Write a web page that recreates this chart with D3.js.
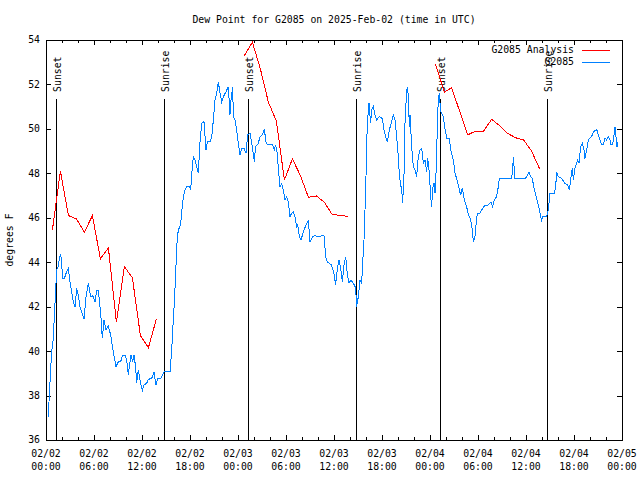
<!DOCTYPE html>
<html><head><meta charset="utf-8">
<script src="https://cdn.jsdelivr.net/npm/d3@7"></script>
<style>
body{margin:0;background:#fff}
svg{display:block}
text{font-family:"DejaVu Sans Mono","Liberation Mono",monospace;font-size:9.8px;fill:#000}
</style>
</head><body>
<svg id="c" width="640" height="480"></svg>
<script>
// ---------------- data ----------------
const chartTitle = "Dew Point for G2085 on 2025-Feb-02 (time in UTC)";
const yLabel = "degrees F";
const seriesNames = ["G2085 Analysis", "G2085"];
const startUtc = Date.UTC(2025, 1, 2, 0, 0);
const spanHours = 72;

// observations: hours since 2025-02-02 00:00 UTC
const obsHours = [0.29,0.375,0.58,0.71,0.92,1.0,1.125,1.25,1.33,1.54,1.67,1.83,1.96,2.08,2.29,2.58,2.79,3.0,3.21,3.42,3.625,3.83,4.04,4.25,4.58,4.75,5.0,5.29,5.58,5.83,6.125,6.33,6.54,6.67,6.875,7.04,7.25,7.5,7.79,8.08,8.33,8.75,9.04,9.33,9.58,9.875,10.08,10.29,10.42,10.625,10.83,11.0,11.2,11.33,11.54,11.75,12.04,12.25,12.58,12.79,13.21,13.5,13.75,13.96,14.33,14.67,14.79,15.5,
15.71,15.83,16.0,16.125,16.25,16.42,16.625,16.83,16.96,17.17,17.375,17.58,17.92,18.08,18.21,18.42,18.625,18.83,19.04,19.25,19.46,19.75,20.0,20.17,20.5,20.7,20.92,21.125,21.33,21.54,21.75,21.96,22.17,22.5,22.79,23.0,23.125,23.33,23.42,23.625,23.83,24.04,24.25,24.46,24.75,25.0,25.2,25.5,25.7,26.04,26.2,26.54,26.75,27.04,27.29,27.5,27.7,28.33,28.54,28.7,28.92,29.04,29.25,29.46,29.67,29.875,30.08,30.29,30.5,30.7,30.92,31.125,31.33,31.46,31.67,31.875,32.17,32.5,32.79,33.0,33.33,33.625,34.04,34.54,34.75,34.96,35.17,35.42,35.7,36.04,36.2,36.42,36.625,36.83,37.04,37.25,37.46,37.67,37.875,38.125,38.42,38.7,38.83,39.04,39.25,39.46,39.58,39.75,39.875,40.0,40.08,40.17,40.375,40.58,40.71,40.92,41.125,41.33,41.67,42.04,42.25,42.46,42.67,42.92,43.2,43.42,43.625,43.83,44.04,44.17,44.33,44.46,44.58,44.75,44.875,45.08,45.2,45.29,45.42,45.5,45.71,45.92,46.125,46.33,46.54,46.75,46.96,47.17,47.375,47.58,47.71,47.92,48.08,48.21,48.33,48.5,48.625,48.75,48.92,49.04,49.17,49.33,49.46,49.67,49.85,50.1,50.42,50.58,50.92,51.125,51.33,51.625,51.83,52.04,52.29,52.58,52.79,53.0,53.21,53.42,53.625,53.83,53.96,54.25,54.58,54.875,55.29,55.625,55.83,56.04,56.33,56.54,56.67,58.2,58.33,58.42,58.54,58.625,59.875,60.08,60.375,60.58,60.79,61.0,61.21,61.42,61.625,61.83,61.96,62.04,62.58,62.79,63.0,63.54,63.71,63.83,64.04,64.46,64.875,65.2,65.42,65.625,65.79,65.92,66.125,66.46,66.625,66.83,67.04,67.25,67.375,67.58,67.79,68.0,68.2,68.42,68.83,69.04,69.25,69.46,69.67,69.875,70.08,70.29,70.5,70.625,70.83,71.0,71.125,71.25,71.375,71.46];
const obsValues = [37.05,37.72,39.15,39.98,40.57,41.25,42.15,43.05,43.65,43.8,44.17,44.37,43.95,43.27,43.27,43.57,43.72,43.12,42.67,42.22,41.97,42.82,42.52,42.0,41.63,41.43,42.45,43.05,42.45,42.5,42.22,42.75,42.75,42.3,41.48,40.57,41.4,40.95,41.13,40.73,40.13,39.3,39.52,39.52,39.82,39.82,39.6,38.93,39.3,39.82,39.52,39.82,39.3,38.55,39.15,38.7,38.22,38.47,38.55,38.73,38.77,39.07,38.47,38.77,38.77,39.0,39.07,39.07,
40.05,40.87,41.92,42.82,43.87,45.22,45.52,45.67,46.27,46.95,47.25,47.4,47.4,47.25,47.92,48.75,48.6,48.3,48.0,49.42,50.25,50.33,49.05,49.42,49.42,49.6,50.4,51.3,51.6,52.12,51.6,51.22,51.45,51.67,51.9,50.63,51.3,51.9,50.55,50.4,49.95,49.35,48.83,49.12,49.12,48.9,49.73,49.8,49.42,48.53,49.2,49.35,49.65,49.73,49.98,49.42,49.28,49.28,49.05,49.28,48.9,48.22,47.4,47.55,47.25,46.8,46.95,46.72,46.05,46.2,46.27,46.05,45.6,45.68,45.15,45.0,45.37,45.67,45.9,44.92,45.15,45.2,45.15,45.2,45.2,44.25,44.02,43.95,43.87,43.42,42.97,43.72,44.1,43.72,43.12,43.87,44.25,43.42,43.05,43.2,43.05,42.85,42.0,42.45,43.2,43.05,43.95,45.0,46.35,47.85,49.2,50.25,51.15,50.25,50.85,51.0,50.63,50.4,50.55,50.47,49.95,49.65,49.42,49.95,50.33,50.63,50.4,49.65,48.75,47.92,47.47,47.3,46.65,47.92,50.25,51.75,51.9,51.38,50.1,50.63,49.2,48.3,48.15,47.85,48.75,49.05,49.12,48.45,48.6,48.07,48.67,48.0,46.95,46.5,47.33,47.55,47.1,48.0,50.1,51.38,51.6,50.78,50.7,50.55,50.05,49.58,49.58,49.05,48.6,48.0,47.77,47.33,47.02,47.33,46.8,46.5,46.13,45.98,45.67,44.92,45.15,45.98,46.2,46.2,46.43,46.55,46.58,46.72,46.5,46.8,46.95,47.4,47.77,47.77,48.15,48.75,48.15,47.77,47.77,47.85,48.07,47.85,47.77,47.33,47.02,46.72,46.43,46.05,45.83,46.05,46.08,46.35,47.1,47.1,47.4,48.07,47.85,47.77,47.55,47.47,47.25,47.85,48.22,47.7,48.22,48.6,48.45,49.2,49.35,49.05,48.67,49.05,49.5,49.6,49.65,49.87,49.98,49.73,49.5,49.28,49.28,49.58,49.5,49.65,49.5,49.28,49.28,49.73,50.1,49.65,49.2,49.4];

// analysis (null = gap between runs)
const anaHours = [0.8,1.8,2.8,3.8,4.8,5.8,6.8,7.8,8.8,9.8,10.8,11.8,12.8,13.8, null,
  24.8,25.8,26.8,27.8,28.8,29.8,30.8,31.8,32.8,33.8,34.8,35.8,36.8,37.8, null,
  48.7,49.8,50.7,51.7,52.7,53.7,54.7,55.7,56.7,57.7,58.7,59.7,60.7,61.7];
const anaValues = [45.45,48.1,46.1,45.95,45.35,46.1,44.15,44.65,41.3,43.8,43.3,40.7,40.15,41.45, null,
  53.3,53.9,52.7,51.2,50.35,47.7,48.65,47.9,46.92,46.98,46.7,46.13,46.12,46.05, null,
  52.9,51.65,51.85,50.8,49.73,49.9,49.9,50.43,50.15,49.8,49.6,49.5,49.0,48.2];

const sunNames = ["Sunset","Sunrise","Sunset","Sunrise","Sunset","Sunrise"];
const sunHours = [1.29,14.75,25.29,38.7,49.29,62.68];
const sunLineTopValue = 51.35;

const yTickValues = [36,38,40,42,44,46,48,50,52,54];
const yDomain = [36, 54];

// ---------------- drawing ----------------
const svg = d3.select("#c");
const M = {left:46, right:622, top:40, bottom:440};
const toDate = h => new Date(startUtc + h * 3600e3);

const x = d3.scaleUtc().domain([toDate(0), toDate(spanHours)]).range([M.left, M.right]);
const y = d3.scaleLinear().domain(yDomain).range([M.bottom, M.top]);

const majorX = x.ticks(d3.utcHour.every(6));
const minorX = x.ticks(d3.utcHour.every(2));
const fmtDay = d3.utcFormat("%m/%d"), fmtTime = d3.utcFormat("%H:%M");

const g = svg.append("g").attr("shape-rendering","crispEdges");
// ticks bottom/top
const tickG = g.append("g").attr("stroke","#000").attr("stroke-width",1);
minorX.forEach(t => {
  const isMajor = t.getUTCHours() % 6 === 0;
  const len = isMajor ? 5 : 3;
  const xx = Math.round(x(t)) + 0.5;
  tickG.append("line").attr("x1",xx).attr("x2",xx).attr("y1",M.bottom).attr("y2",M.bottom-len);
  tickG.append("line").attr("x1",xx).attr("x2",xx).attr("y1",M.top).attr("y2",M.top+len);
});
yTickValues.forEach(v => {
  const yy = Math.round(y(v)) + 0.5;
  tickG.append("line").attr("x1",M.left).attr("x2",M.left+5).attr("y1",yy).attr("y2",yy);
  tickG.append("line").attr("x1",M.right).attr("x2",M.right-5).attr("y1",yy).attr("y2",yy);
});

// x labels
majorX.forEach(t => {
  const tx = svg.append("text").attr("x", x(t)).attr("text-anchor","middle");
  tx.append("tspan").attr("x", x(t)).attr("y", 457).text(fmtDay(t));
  tx.append("tspan").attr("x", x(t)).attr("y", 470).text(fmtTime(t));
});
// y labels
yTickValues.forEach(v => {
  svg.append("text").attr("x", 40).attr("y", y(v)).attr("dy","0.35em")
    .attr("text-anchor","end").text(v);
});

// sun lines
sunHours.forEach((h,i) => {
  const xx = Math.round(x(toDate(h))) + 0.5;
  g.append("line").attr("x1",xx).attr("x2",xx).attr("y1",y(sunLineTopValue)).attr("y2",M.bottom)
    .attr("stroke","#000");
  svg.append("text").attr("transform",`translate(${xx+4},${y(sunLineTopValue)-7}) rotate(-90)`)
    .attr("text-anchor","start").text(sunNames[i]);
});

// data lines
const line = d3.line().defined(d => d.h != null && d.v != null)
  .x(d => x(toDate(d.h))).y(d => y(d.v));
const obs = obsHours.map((h,i) => ({h, v: obsValues[i]}));
const ana = anaHours.map((h,i) => ({h, v: anaValues[i]}));

const colors = ["#ff0000", "#0080ff"];
svg.append("path").datum(ana).attr("d", line).attr("fill","none")
  .attr("stroke", colors[0]).attr("stroke-width",1).attr("shape-rendering","crispEdges");
svg.append("path").datum(obs).attr("d", line).attr("fill","none")
  .attr("stroke", colors[1]).attr("stroke-width",1).attr("shape-rendering","crispEdges");

// border
g.append("rect").attr("x",M.left+0.5).attr("y",M.top+0.5)
  .attr("width",M.right-M.left).attr("height",M.bottom-M.top)
  .attr("fill","none").attr("stroke","#000");

// title
svg.append("text").attr("x",(M.left+M.right)/2).attr("y",20).attr("dy","0.35em")
  .attr("text-anchor","middle").text(chartTitle);
// y axis label
svg.append("text").attr("transform",`translate(13,${(M.top+M.bottom)/2}) rotate(-90)`)
  .attr("text-anchor","middle").text(yLabel);

// legend
seriesNames.forEach((n,i) => {
  const ly = 50 + i*12;
  svg.append("text").attr("x",574).attr("y",ly).attr("dy","0.35em").attr("text-anchor","end").text(n);
  g.append("line").attr("x1",582).attr("x2",610).attr("y1",ly+0.5).attr("y2",ly+0.5)
    .attr("stroke",colors[i]);
});
</script>
</body></html>
